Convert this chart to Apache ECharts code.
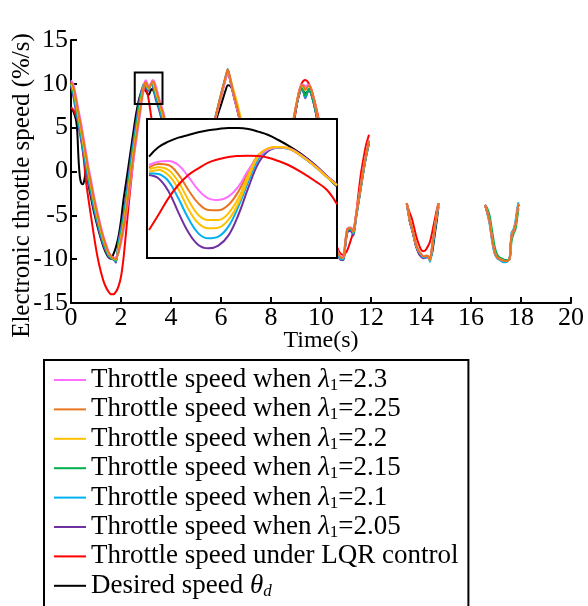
<!DOCTYPE html>
<html><head><meta charset="utf-8">
<script src="https://cdn.jsdelivr.net/npm/echarts/dist/echarts.min.js"></script>
<style>html,body{margin:0;padding:0;background:#fff}#c{width:588px;height:606px}</style>
</head><body><div id="c"></div>
<script>
// ---------- data ----------
const xTicks = [0, 2, 4, 6, 8, 10, 12, 14, 16, 18, 20];
const yTicks = [-15, -10, -5, 0, 5, 10, 15];

const time = [
0,0.1,0.2,0.3,0.4,0.5,0.6,0.7,0.8,0.9,1.0,1.1,1.2,1.3,1.4,1.5,1.6,1.7,1.8,1.9,2.0,2.1,2.2,2.3,2.4,2.5,2.6,2.7,2.8,2.9,2.95,3.0,3.1,3.2,3.25,3.3,3.4,3.5,3.6,3.7,3.8,
4.7,
5.6,5.8,6.0,6.1,6.2,6.27,6.35,6.45,6.55,6.65,6.75,6.9,
7.8,
8.8,8.9,9.0,9.1,9.22,9.3,9.37,9.45,9.52,9.6,9.7,9.8,9.9,10.05,
10.3,
10.55,10.7,10.8,10.9,10.97,11.05,11.15,11.25,11.3,11.4,11.5,11.6,11.7,11.8,11.92,
12.7,
13.43,13.5,13.56,13.63,13.7,13.8,13.9,14.0,14.1,14.2,14.3,14.36,14.45,14.55,14.63,14.7,
15.6,
16.56,16.65,16.75,16.85,16.95,17.05,17.15,17.25,17.35,17.45,17.55,17.62,17.7,17.78,17.85,17.9];

const lam230 = [
10.4,9.9,8.6,7.0,5.6,3.9,2.2,0.5,-0.9,-2.5,-3.85,-5.1,-6.3,-7.4,-8.25,-9.1,-9.6,-9.85,-9.75,-9.3,-8.2,-6.8,-5.1,-3.1,-0.85,1.3,3.3,5.3,7.3,9.4,10.2,10.4,9.8,9.95,10.4,10.4,9.7,8.6,7.6,6.75,5.4,
null,
4.1,6.3,8.6,9.7,10.8,11.4,10.7,9.4,8.2,7.1,5.9,4.2,
null,
4.5,5.9,7.4,8.7,9.9,9.9,9.7,9.85,9.9,9.5,8.5,7.1,5.6,3.3,
null,
-8.2,-9.3,-9.7,-9.8,-8.0,-6.5,-6.4,-6.5,-6.8,-4.9,-3.2,-1.4,0.4,2.0,3.6,
null,
-3.6,-4.7,-5.7,-6.3,-7.1,-8.3,-9.0,-9.4,-9.7,-9.6,-9.7,-10.0,-8.4,-6.4,-4.9,-3.6,
null,
-3.8,-4.6,-5.8,-7.8,-9.2,-9.8,-10.0,-10.1,-10.2,-10.2,-9.9,-7.3,-6.8,-6.0,-4.6,-3.7];

const lam225 = [
10.2,9.6,8.25,6.65,5.15,3.5,1.8,0.1,-1.3,-2.8,-4.15,-5.4,-6.6,-7.6,-8.45,-9.2,-9.65,-9.9,-9.95,-9.2,-7.8,-6.4,-4.6,-2.55,-0.3,1.8,3.8,5.7,7.7,9.45,10.1,10.15,9.55,9.9,10.25,10.25,9.35,8.35,7.35,6.45,5.0,
null,
4.3,6.5,8.8,9.9,11.0,11.65,10.9,9.6,8.4,7.3,6.1,4.4,
null,
4.6,6.0,7.5,8.8,9.85,9.75,9.35,9.6,9.85,9.45,8.45,7.1,5.6,3.3,
null,
-8.3,-9.4,-9.8,-9.85,-8.1,-6.6,-6.45,-6.6,-6.9,-5.0,-3.3,-1.5,0.3,1.9,3.5,
null,
-3.6,-4.7,-5.7,-6.3,-7.1,-8.3,-9.0,-9.4,-9.7,-9.6,-9.7,-10.1,-8.4,-6.4,-4.9,-3.6,
null,
-3.8,-4.6,-5.8,-7.8,-9.2,-9.8,-10.0,-10.1,-10.2,-10.2,-9.9,-7.3,-6.8,-6.0,-4.6,-3.7];

const lam220 = [
10.05,9.3,7.85,6.25,4.75,3.05,1.35,-0.25,-1.65,-3.15,-4.5,-5.7,-6.85,-7.8,-8.6,-9.35,-9.7,-9.95,-10.05,-8.85,-7.45,-6.0,-4.1,-2.0,0.25,2.3,4.25,6.2,8.1,9.55,10.05,9.95,9.45,9.95,10.15,10.0,9.0,8.1,7.1,6.1,4.65,
null,
4.1,6.3,8.6,9.7,10.8,11.4,10.9,9.8,8.8,7.8,6.6,4.8,
null,
4.6,6.0,7.5,8.8,9.9,9.7,9.3,9.6,9.9,9.5,8.5,7.2,5.7,3.4,
null,
-8.3,-9.4,-9.8,-9.85,-8.1,-6.6,-6.4,-6.6,-6.9,-5.0,-3.3,-1.5,0.3,1.9,3.5,
null,
-3.6,-4.7,-5.7,-6.3,-7.1,-8.3,-9.0,-9.4,-9.7,-9.6,-9.7,-10.1,-8.4,-6.4,-4.9,-3.6,
null,
-3.8,-4.6,-5.8,-7.8,-9.2,-9.8,-10.0,-10.1,-10.2,-10.2,-9.9,-7.3,-6.8,-6.0,-4.6,-3.7];

const lam215 = [
10.0,9.1,7.55,5.95,4.45,2.75,1.05,-0.55,-1.95,-3.45,-4.7,-5.9,-7.05,-8.0,-8.8,-9.45,-9.8,-10.0,-10.15,-8.55,-7.15,-5.6,-3.7,-1.6,0.65,2.7,4.65,6.6,8.4,9.7,10.05,9.85,9.4,10.0,10.1,9.85,8.8,7.9,6.9,5.9,4.35,
null,
4.2,6.4,8.7,9.8,10.9,11.5,10.8,9.5,8.3,7.2,6.0,4.3,
null,
4.4,5.85,7.3,8.6,9.55,9.2,8.6,9.1,9.45,9.05,8.05,6.75,5.25,3.05,
null,
-8.3,-9.4,-9.8,-9.9,-8.2,-6.7,-6.5,-6.7,-7.0,-5.1,-3.4,-1.6,0.2,1.8,3.4,
null,
-3.6,-4.7,-5.7,-6.3,-7.1,-8.3,-9.0,-9.4,-9.7,-9.6,-9.7,-10.1,-8.5,-6.4,-4.9,-3.6,
null,
-3.8,-4.2,-5.1,-6.9,-8.6,-9.5,-9.8,-9.95,-10.1,-10.1,-10.0,-8.0,-7.1,-6.6,-5.3,-4.2];

const lam210 = [
9.9,8.8,7.15,5.55,4.05,2.3,0.6,-0.95,-2.3,-3.8,-5.05,-6.2,-7.3,-8.2,-8.95,-9.6,-9.85,-10.0,-10.25,-8.2,-6.8,-5.2,-3.2,-1.05,1.2,3.2,5.1,7.05,8.8,9.8,10.05,9.7,9.3,10.0,10.0,9.6,8.45,7.55,6.55,5.45,3.95,
null,
4.3,6.5,8.8,9.9,11.0,11.7,10.8,9.5,8.3,7.2,6.0,4.3,
null,
4.4,5.85,7.3,8.6,9.5,9.1,8.45,9.0,9.4,9.0,8.0,6.7,5.2,3.0,
null,
-8.4,-9.6,-10.0,-10.0,-8.4,-6.8,-6.6,-6.8,-7.1,-5.2,-3.5,-1.7,0.1,1.7,3.3,
null,
-3.7,-4.8,-5.8,-6.4,-7.2,-8.4,-9.1,-9.5,-9.8,-9.7,-9.8,-10.3,-9.0,-6.8,-5.2,-3.8,
null,
-3.8,-4.8,-6.1,-8.1,-9.4,-9.9,-10.1,-10.3,-10.35,-10.3,-9.7,-7.0,-6.6,-5.6,-4.2,-3.5];

const lam205 = [
9.7,8.5,6.8,5.2,3.65,1.9,0.2,-1.3,-2.7,-4.15,-5.35,-6.5,-7.6,-8.45,-9.15,-9.7,-9.9,-10.05,-10.4,-7.9,-6.4,-4.8,-2.7,-0.5,1.7,3.7,5.6,7.5,9.0,9.9,10.0,9.5,9.2,10.05,9.9,9.35,8.1,7.25,6.2,5.05,3.6,
null,
4.2,6.4,8.7,9.8,10.9,11.5,10.7,9.4,8.2,7.1,5.9,4.2,
null,
4.3,5.8,7.2,8.5,9.45,9.0,8.35,8.9,9.35,8.95,7.95,6.65,5.15,2.95,
null,
-8.5,-9.7,-10.1,-10.1,-8.6,-7.0,-6.8,-7.0,-7.3,-5.4,-3.6,-1.8,0.0,1.6,3.2,
null,
-3.7,-4.8,-5.8,-6.5,-7.3,-8.5,-9.3,-9.7,-9.9,-9.8,-9.8,-10.0,-8.6,-6.5,-5.0,-3.7,
null,
-3.8,-4.6,-5.8,-7.8,-9.2,-9.8,-10.0,-10.1,-10.2,-10.2,-9.9,-7.3,-6.8,-6.0,-4.6,-3.7];

const lqr = [
7.3,7.0,6.36,5.5,4.0,1.7,-1.1,-3.2,-5.1,-7.0,-8.8,-10.3,-11.5,-12.5,-13.2,-13.7,-14.0,-14.0,-13.7,-13.1,-12.0,-9.9,-7.0,-4.0,-1.2,1.5,4.45,6.9,8.4,9.15,9.35,9.4,8.3,6.4,5.5,4.5,null,null,null,null,null,
null,
4.0,6.2,8.5,9.6,10.7,11.3,10.6,9.3,8.1,7.0,5.8,4.1,
null,
3.8,5.3,7.0,8.9,10.0,10.35,10.45,10.3,9.95,9.4,8.5,7.4,6.1,4.0,
null,
-8.0,-9.0,-9.4,-9.5,-9.35,-9.0,-8.2,-7.3,-6.7,-5.0,-2.5,-0.2,1.5,3.0,4.2,
null,
-3.6,-4.3,-4.8,-5.3,-6.1,-7.3,-8.2,-8.9,-9.1,-8.9,-8.4,-8.0,-6.9,-5.5,-4.4,-3.6,
null,
-3.8,-4.6,-5.8,-7.8,-9.2,-9.8,-10.0,-10.1,-10.2,-10.2,-9.9,-7.3,-6.8,-6.0,-4.6,-3.7];

// desired speed has its own finer time grid over the first 3.8 s
const desiredTimeStart = [0,0.1,0.2,0.25,0.3,0.35,0.4,0.45,0.5,0.55,0.6,0.7,0.8,0.9,1.0,1.1,1.2,1.3,1.4,1.5,1.6,1.7,1.8,1.9,2.0,2.1,2.2,2.3,2.4,2.5,2.6,2.7,2.8,2.9,2.95,3.0,3.1,3.2,3.25,3.3,3.4,3.5,3.6,3.7,3.8];
const desiredTime = desiredTimeStart.concat(time.slice(41));
const desired = [
7.3,6.8,5.9,4.6,1.5,-0.5,-1.25,-1.45,-1.35,-0.7,0.6,-1.5,-3.0,-4.4,-5.6,-6.7,-7.7,-8.6,-9.3,-9.8,-9.95,-9.4,-8.6,-7.4,-5.6,-3.2,-1.3,0.65,2.6,4.6,6.5,8.0,9.0,9.5,9.55,9.2,8.7,9.3,9.4,9.2,8.5,7.6,6.5,5.3,4.0,
null,
3.8,5.8,7.6,8.5,9.4,9.85,9.8,9.4,8.3,7.2,6.0,4.3,
null,
4.3,5.7,7.2,8.5,9.4,9.2,8.9,9.1,9.3,8.9,7.9,6.6,5.1,2.9,
null,
-8.3,-9.4,-9.8,-9.9,-8.3,-6.8,-6.6,-6.8,-7.0,-5.1,-3.4,-1.6,0.2,1.8,3.3,
null,
-3.7,-4.8,-5.8,-6.5,-7.3,-8.5,-9.2,-9.6,-9.8,-9.7,-9.8,-9.9,-9.2,-7.2,-5.6,-4.0,
null,
-3.8,-4.6,-5.8,-7.8,-9.2,-9.8,-10.0,-10.1,-10.2,-10.2,-9.9,-7.3,-6.8,-6.0,-4.6,-3.7];

// zoom marker (data range shown magnified in the inset)
const zoomBoxTime = [2.55, 3.66];
const zoomBoxValue = [7.7, 11.3];

// inset (magnified) curves
const insetTimeRange = [2.949, 3.234];
const insetValueRange = [8.932, 10.6];
const insetTime = [2.952,2.966,2.981,2.996,3.011,3.026,3.041,3.056,3.071,3.086,3.101,3.116,3.131,3.146,3.161,3.181,3.201,3.219,3.234];
const insetDesired = [10.148,10.26,10.328,10.376,10.408,10.44,10.464,10.48,10.492,10.492,10.48,10.448,10.408,10.348,10.28,10.176,10.048,9.908,9.788];
const insetLqr = [9.268,9.448,9.648,9.808,9.928,10.008,10.076,10.116,10.144,10.156,10.16,10.156,10.136,10.096,10.048,9.96,9.856,9.748,9.576];
const insetLam230 = [10.048,10.088,10.096,10.048,9.908,9.748,9.648,9.628,9.668,9.788,9.988,10.148,10.236,10.26,10.248,10.16,10.036,9.908,9.808];
const insetLam225 = [10.016,10.06,10.048,9.936,9.748,9.588,9.508,9.504,9.568,9.728,9.968,10.168,10.248,10.264,10.248,10.156,10.032,9.904,9.804];
const insetLam220 = [9.996,10.02,9.988,9.848,9.628,9.448,9.388,9.388,9.468,9.648,9.928,10.16,10.248,10.264,10.248,10.156,10.032,9.904,9.804];
const insetLam215 = [9.968,9.988,9.928,9.76,9.52,9.348,9.288,9.296,9.388,9.588,9.888,10.148,10.24,10.26,10.248,10.156,10.032,9.904,9.804];
const insetLam210 = [9.948,9.94,9.856,9.648,9.408,9.228,9.168,9.188,9.308,9.548,9.848,10.12,10.232,10.256,10.244,10.152,10.028,9.9,9.8];
const insetLam205 = [9.928,9.888,9.736,9.48,9.24,9.088,9.048,9.08,9.2,9.448,9.776,10.068,10.216,10.256,10.248,10.168,10.048,9.916,9.816];

// ---------- styling ----------
const FONT = 'Liberation Serif';
const C = {
  l230:'#FF6EFF', l225:'#E8761E', l220:'#FFC000', l215:'#00B050',
  l210:'#00B0F0', l205:'#7030A0', lqr:'#FF0000', des:'#000000'
};
const N = {
  l230:'Throttle speed when λ1=2.3', l225:'Throttle speed when λ1=2.25',
  l220:'Throttle speed when λ1=2.2', l215:'Throttle speed when λ1=2.15',
  l210:'Throttle speed when λ1=2.1', l205:'Throttle speed when λ1=2.05',
  lqr:'Throttle speed under LQR control', des:'Desired speed θd'
};
const legendRich = {};
legendRich[N.l230] = '{n|Throttle speed when }{l|λ}{s|1}{n|=2.3}';
legendRich[N.l225] = '{n|Throttle speed when }{l|λ}{s|1}{n|=2.25}';
legendRich[N.l220] = '{n|Throttle speed when }{l|λ}{s|1}{n|=2.2}';
legendRich[N.l215] = '{n|Throttle speed when }{l|λ}{s|1}{n|=2.15}';
legendRich[N.l210] = '{n|Throttle speed when }{l|λ}{s|1}{n|=2.1}';
legendRich[N.l205] = '{n|Throttle speed when }{l|λ}{s|1}{n|=2.05}';
legendRich[N.lqr] = '{n|Throttle speed under LQR control}';
legendRich[N.des] = '{n|Desired speed }{l|θ}{si|d}';

function pairs(x, y) { return x.map((t, i) => [t, y[i] == null ? '-' : y[i]]); }
function mainLine(name, x, y, color) {
  return { type:'line', name, data:pairs(x, y), xAxisIndex:0, yAxisIndex:0,
    showSymbol:false, symbol:'none', smooth:0.25, connectNulls:false, silent:true,
    lineStyle:{width:2, color}, itemStyle:{color}, z:2, animation:false };
}
function insetLine(name, y, color) {
  return { type:'line', name, data:pairs(insetTime, y), xAxisIndex:1, yAxisIndex:1,
    showSymbol:false, symbol:'none', smooth:0.4, silent:true,
    lineStyle:{width:2, color}, itemStyle:{color}, z:10, animation:false };
}

const series = [
  mainLine(N.des, desiredTime, desired, C.des),
  mainLine(N.lqr, time, lqr, C.lqr),
  mainLine(N.l205, time, lam205, C.l205),
  mainLine(N.l210, time, lam210, C.l210),
  mainLine(N.l215, time, lam215, C.l215),
  mainLine(N.l220, time, lam220, C.l220),
  mainLine(N.l230, time, lam230, C.l230),
  mainLine(N.l225, time, lam225, C.l225),
  insetLine('inset-des', insetDesired, C.des),
  insetLine('inset-205', insetLam205, C.l205),
  insetLine('inset-210', insetLam210, C.l210),
  insetLine('inset-215', insetLam215, C.l220),
  insetLine('inset-225', insetLam225, C.l225),
  insetLine('inset-230', insetLam230, C.l230),
  insetLine('inset-220', insetLam220, C.l220),
  insetLine('inset-lqr', insetLqr, C.lqr)
];
series[7].markArea = {
  silent:true, z:20,
  itemStyle:{color:'rgba(0,0,0,0)', borderColor:'#000', borderWidth:2},
  data:[[{coord:[zoomBoxTime[0], zoomBoxValue[1]]}, {coord:[zoomBoxTime[1], zoomBoxValue[0]]}]]
};

const axisText = {color:'#000', fontFamily:FONT, fontSize:26};
const chart = echarts.init(document.getElementById('c'), null, {renderer:'canvas'});
chart.setOption({
  animation:false,
  backgroundColor:'#fff',
  grid:[
    {left:71, top:40, width:500, height:263, outerBoundsMode:'none'},
    {left:147, top:119, width:190, height:139, show:true, backgroundColor:'#fff',
     borderColor:'#000', borderWidth:2, z:5, outerBoundsMode:'none'}
  ],
  xAxis:[
    {type:'value', gridIndex:0, min:xTicks[0], max:xTicks[xTicks.length-1], interval:2,
     name:'Time(s)', nameLocation:'middle', nameGap:26, nameMoveOverlap:false,
     nameTextStyle:{color:'#000', fontFamily:FONT, fontSize:24},
     axisLine:{onZero:false, lineStyle:{color:'#000', width:2}},
     axisTick:{inside:true, length:6, lineStyle:{color:'#000', width:2}},
     axisLabel:Object.assign({margin:2}, axisText),
     splitLine:{show:false}},
    {type:'value', gridIndex:1, min:insetTimeRange[0], max:insetTimeRange[1], show:false,
     splitLine:{show:false}}
  ],
  yAxis:[
    {type:'value', gridIndex:0, min:yTicks[0], max:yTicks[yTicks.length-1], interval:5,
     name:'Electronic throttle speed (%/s)', nameLocation:'middle', nameGap:36, nameMoveOverlap:false,
     nameTextStyle:{color:'#000', fontFamily:FONT, fontSize:25, padding:[0,28,0,0]},
     axisLine:{onZero:false, lineStyle:{color:'#000', width:2}},
     axisTick:{inside:true, length:6, lineStyle:{color:'#000', width:2}},
     axisLabel:Object.assign({margin:3}, axisText),
     splitLine:{show:false}},
    {type:'value', gridIndex:1, min:insetValueRange[0], max:insetValueRange[1], show:false,
     splitLine:{show:false}}
  ],
  legend:{
    data:[N.l230, N.l225, N.l220, N.l215, N.l210, N.l205, N.lqr, N.des],
    orient:'vertical', left:44, top:360, height:400,
    padding:[6, 10, 30, 10],
    itemWidth:32, itemHeight:2, itemGap:1.4,
    icon:'rect', selectedMode:false,
    borderColor:'#000', borderWidth:2,
    formatter:(name) => legendRich[name],
    textStyle:{color:'#000', fontFamily:FONT, fontSize:27, lineHeight:28,
      rich:{
        n:{color:'#000', fontFamily:FONT, fontSize:27, lineHeight:28},
        l:{color:'#000', fontFamily:FONT, fontSize:27, fontStyle:'italic', lineHeight:28},
        s:{color:'#000', fontFamily:FONT, fontSize:17, lineHeight:12, verticalAlign:'bottom'},
        si:{color:'#000', fontFamily:FONT, fontSize:17, fontStyle:'italic', lineHeight:12, verticalAlign:'bottom'}
      }}
  },
  series
});
</script></body></html>
